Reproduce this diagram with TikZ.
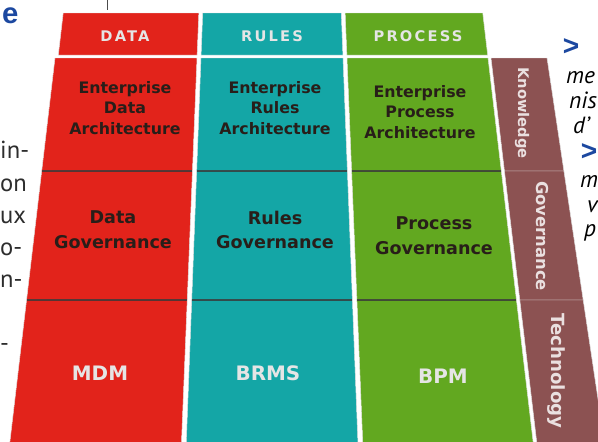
\documentclass[tikz,border=0pt]{standalone}
\usepackage{fontspec}
\setmainfont{Liberation Sans}
\newfontfamily\cellfont{DejaVu Sans}
\newfontfamily\capsfont[LetterSpace=15]{DejaVu Sans}
\newfontfamily\bodyfont{PT Sans}
\usetikzlibrary{positioning}

\definecolor{datared}{RGB}{226,35,27}
\definecolor{rulesteal}{RGB}{20,166,166}
\definecolor{processgreen}{RGB}{98,168,32}
\definecolor{layerbrown}{RGB}{140,82,82}
\definecolor{inkdark}{RGB}{40,30,25}
\definecolor{titleblue}{RGB}{28,72,160}
\definecolor{bodygray}{RGB}{45,45,45}

% x of a tile corner at depth y (the grid widens towards the bottom)
\newcommand{\spread}[2]{271.5+(#1-271.5)*(1+(#2-58)/1843)}

\tikzset{
  tile/.style={line width=0.4pt, draw=black!12},
  seam/.style={line width=1.1pt, black!80, opacity=0.8},
  capslabel/.style={font=\capsfont\bfseries\fontsize{12.5}{15}\selectfont, text=white!90!black},
  celltext/.style 2 args={font=\cellfont\bfseries\fontsize{#1}{#2}\selectfont, text=inkdark, align=center},
  tooltext/.style={font=\cellfont\bfseries\fontsize{17}{20}\selectfont, text=white!90!black},
  layertext/.style={font=\cellfont\bfseries\fontsize{#1}{#1}\selectfont, text=white!82!layerbrown, rotate=-90},
  bodytext/.style={font=\bodyfont\fontsize{21}{28}\selectfont, text=bodygray, inner sep=0pt, anchor=base west},
  asidetext/.style={font=\bodyfont\itshape\fontsize{20}{25}\selectfont, text=black, inner sep=0pt, anchor=base west},
  chevron/.style={font=\bfseries\fontsize{24}{24}\selectfont, text=titleblue, inner sep=0pt}
}

\begin{document}
\begin{tikzpicture}[x=0.03cm,y=-0.03cm]
\useasboundingbox (0,0) rectangle (598,441);
\clip (0,0) rectangle (598,441);

% Draw header tiles
\foreach \ua/\ub/\col in {58/197/datared, 201/343/rulesteal, 347/488/processgreen}
  \filldraw[tile, fill=\col] ({\spread{\ua}{13}},13) -- ({\spread{\ub}{13}},13)
    -- ({\spread{\ub}{55}},55) -- ({\spread{\ua}{55}},55) -- cycle;

% Draw body tiles, three rows per column
\foreach \ua/\ub/\col in {55/197/datared, 201/343/rulesteal, 347/488/processgreen, 491/547/layerbrown}
  \foreach \va/\vb in {58/171, 171/300, 300/446}
    \filldraw[tile, fill=\col] ({\spread{\ua}{\va}},\va) -- ({\spread{\ub}{\va}},\va)
      -- ({\spread{\ub}{\vb}},\vb) -- ({\spread{\ua}{\vb}},\vb) -- cycle;

% Dark seams between the rows
\foreach \ua/\ub in {55/197, 201/343, 347/488}
  \foreach \v in {171,300}
    \draw[seam] ({\spread{\ua}{\v}},\v) -- ({\spread{\ub}{\v}},\v);

% Column headers
\node[capslabel] (hdata) at (125,36) {DATA};
\node[capslabel] (hrules) at (272,36) {RULES};
\node[capslabel] (hprocess) at (418,36) {PROCESS};

% Knowledge row
\node[celltext={13.5}{17.5}] (kdata) at (125,108) {Enterprise\\Data\\Architecture};
\node[celltext={13.5}{17.5}] (krules) at (275,108) {Enterprise\\Rules\\Architecture};
\node[celltext={13.5}{17.5}] (kprocess) at (420,112) {Enterprise\\Process\\Architecture};

% Governance row
\node[celltext={15}{21}] (gdata) at (113,230) {Data\\Governance};
\node[celltext={15}{21}] (grules) at (275,230) {Rules\\Governance};
\node[celltext={15}{21}] (gprocess) at (434,236) {Process\\Governance};

% Technology row
\node[tooltext] (mdm) at (100,373) {MDM};
\node[tooltext] (brms) at (268,373) {BRMS};
\node[tooltext] (bpm) at (443,376) {BPM};

% Layer names on the side
\node[layertext=12.5] (lknow) at (522,113) {Knowledge};
\node[layertext=14] (lgov) at (542,236) {Governance};
\node[layertext=15.5] (ltech) at (556,371) {Technology};

% Page text around the figure
\draw[black!70, line width=0.5pt] (107,0) -- (107,10);
\node[font=\bfseries\fontsize{25}{25}\selectfont, text=titleblue, inner sep=0pt, anchor=base west] (title) at (2,23) {e};

\foreach \t/\y in {in-/158, on/191, ux/223, o-/255, n-/287, -/351}
  \node[bodytext] (left\y) at (0,\y) {\t};

\node[chevron] (c1) at (571,47) {>};
\node[chevron] (c2) at (589,152) {>};
\foreach \t/\x/\y in {me/566/83, nis/569/108, d’/573/133, m/580/187, v/587/212, p/584/236}
  \node[asidetext] (right\y) at (\x,\y) {\t};

\end{tikzpicture}
\end{document}
